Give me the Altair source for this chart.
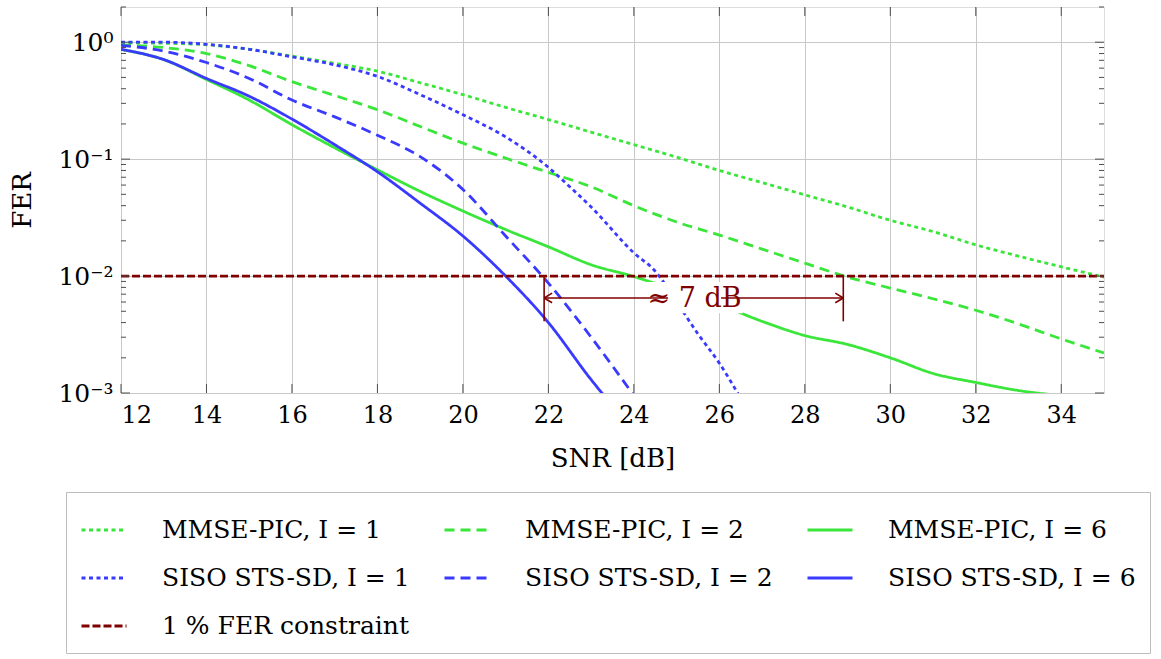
import altair as alt
import pandas as pd

# ---------------- data ----------------
mmse1_snr = [12, 13, 14, 15, 16, 17, 18, 19, 20, 21, 22, 23, 24, 25, 26, 27, 28, 29, 30, 31, 32, 33, 34, 35]
mmse1_fer = [0.99, 0.98, 0.95, 0.87, 0.76, 0.66, 0.565, 0.45, 0.356, 0.277, 0.218, 0.17, 0.133, 0.104,
             0.08, 0.063, 0.0495, 0.039, 0.030, 0.024, 0.0185, 0.0148, 0.012, 0.0098]

mmse2_snr = [12, 13, 14, 15, 16, 17, 18, 19, 20, 21, 22, 23, 24, 25, 26, 27, 28, 29, 30, 31, 32, 33, 34, 35]
mmse2_fer = [0.95, 0.90, 0.80, 0.63, 0.46, 0.35, 0.265, 0.19, 0.137, 0.102, 0.077, 0.058, 0.04, 0.029,
             0.0224, 0.017, 0.0129, 0.0098, 0.0079, 0.0064, 0.0051, 0.0039, 0.0029, 0.0022]

mmse6_snr = [12, 13, 14, 15, 16, 17, 18, 19, 20, 21, 22, 23, 24, 25, 26, 27, 28, 29, 30, 31, 32, 33, 34]
mmse6_fer = [0.865, 0.71, 0.48, 0.32, 0.197, 0.125, 0.081, 0.053, 0.036, 0.025, 0.0178, 0.0125, 0.0099,
             0.0075, 0.0057, 0.0041, 0.0031, 0.0026, 0.0020, 0.00147, 0.00123, 0.00105, 0.00095]

siso1_snr = [12, 13, 14, 15, 16, 17, 18, 19, 20, 21, 22, 22.5, 23, 24, 24.5, 25, 25.5, 26, 26.5]
siso1_fer = [1.0, 1.0, 0.96, 0.87, 0.75, 0.64, 0.51, 0.356, 0.24, 0.155, 0.085, 0.058, 0.039, 0.0158,
             0.011, 0.006, 0.0032, 0.0018, 0.0009]

siso2_snr = [12, 13, 14, 15, 16, 17, 18, 19, 20, 21, 22, 23, 24]
siso2_fer = [0.94, 0.84, 0.67, 0.49, 0.32, 0.23, 0.16, 0.105, 0.055, 0.022, 0.0087, 0.003, 0.00095]

siso6_snr = [12, 13, 14, 15, 16, 17, 18, 19, 20, 21, 22, 23, 23.3]
siso6_fer = [0.87, 0.71, 0.49, 0.345, 0.22, 0.133, 0.078, 0.042, 0.022, 0.01, 0.004, 0.0013, 0.00095]

constraint_snr = [12, 35]
constraint_fer = [0.01, 0.01]

series_names = ["MMSE-PIC, I = 1", "MMSE-PIC, I = 2", "MMSE-PIC, I = 6",
                "SISO STS-SD, I = 1", "SISO STS-SD, I = 2", "SISO STS-SD, I = 6",
                "1 % FER constraint"]
series_colors = ["#3ae63a", "#3ae63a", "#3ae63a", "#3a3aff", "#3a3aff", "#3a3aff", "#800000"]
series_dash = [[4, 3.5], [10, 6], [1, 0], [4, 3.5], [10, 6], [1, 0], [8, 3]]
series_width = [2.8, 2.8, 2.8, 2.8, 2.8, 2.8, 4.8]

# annotation (≈ 7 dB gap)
gap_left, gap_right = 21.9, 28.9
gap_bar_bottom = 0.0041
gap_arrow_level = 0.0065
gap_label = "≈ 7 dB"
gap_label_snr = 25.42
label_box = {"snr": [24.3], "snr2": [26.55], "fer": [0.0089], "fer2": [0.0048]}

x_ticks = [12, 14, 16, 18, 20, 22, 24, 26, 28, 30, 32, 34]
y_ticks = [0.001, 0.01, 0.1, 1]
y_minor = [m * 10 ** d for d in (-3, -2, -1, 0) for m in range(2, 10) if m * 10 ** d <= 2]

# ---------------- frames ----------------
rows = []
for name, xs, ys in [
    (series_names[0], mmse1_snr, mmse1_fer),
    (series_names[1], mmse2_snr, mmse2_fer),
    (series_names[2], mmse6_snr, mmse6_fer),
    (series_names[3], siso1_snr, siso1_fer),
    (series_names[4], siso2_snr, siso2_fer),
    (series_names[5], siso6_snr, siso6_fer),
]:
    for a, b in zip(xs, ys):
        rows.append({"series": name, "snr": a, "fer": b})
curves = pd.DataFrame(rows)
constraint = pd.DataFrame({"series": series_names[6], "snr": constraint_snr, "fer": constraint_fer})

W, H = 983, 386
FONT = "DejaVu Serif"
DARKRED = "#800000"

xscale = alt.Scale(domain=[12, 35], nice=False, zero=False)
yscale = alt.Scale(type="log", domain=[0.001, 2], nice=False)

xaxis = alt.Axis(values=x_ticks, title="SNR [dB]", grid=True, ticks=False, domain=False,
                 labelFontSize=24, titleFontSize=26, labelPadding=10, titlePadding=18,
                 labelFont=FONT, titleFont=FONT, titleFontWeight="normal",
                 labelColor="black", titleColor="black", gridColor="#c8c8c8")
yaxis = alt.Axis(values=y_ticks, title="FER", grid=True, ticks=False, domain=False,
                 labelExpr="datum.value >= 0.5 ? '10⁰' : datum.value >= 0.05 ? '10⁻¹' : "
                           "datum.value >= 0.005 ? '10⁻²' : '10⁻³'",
                 labelFontSize=25, titleFontSize=26, labelPadding=8, titlePadding=22,
                 labelFont=FONT, titleFont=FONT, titleFontWeight="normal",
                 labelColor="black", titleColor="black", gridColor="#c8c8c8")


def X(field="snr"):
    return alt.X(field, type="quantitative", scale=xscale, axis=xaxis)


def Y(field="fer"):
    return alt.Y(field, type="quantitative", scale=yscale, axis=yaxis)


legend = alt.Legend(title=None, orient="none", legendX=-55, legendY=485, columns=3,
                    direction="horizontal",
                    columnPadding=28, rowPadding=11, padding=14,
                    labelFont=FONT, labelFontSize=25, labelColor="black", labelLimit=400,
                    symbolType="stroke", symbolSize=2025, labelOffset=34,
                    strokeColor="#bdbdbd", fillColor="white", symbolOpacity=1)

enc = dict(
    x=X(), y=Y(),
    color=alt.Color("series:N", scale=alt.Scale(domain=series_names, range=series_colors), legend=legend),
    strokeDash=alt.StrokeDash("series:N", scale=alt.Scale(domain=series_names, range=series_dash), legend=legend),
    strokeWidth=alt.StrokeWidth("series:N", scale=alt.Scale(domain=series_names, range=series_width), legend=legend),
    detail="series:N",
)

lines = alt.Chart(curves).mark_line(clip=True, interpolate="monotone").encode(**enc)
cline = alt.Chart(constraint).mark_line(clip=True).encode(**enc)

box = alt.Chart(pd.DataFrame(label_box)).mark_rect(fill="white", opacity=1, fillOpacity=1).encode(
    x=X("snr"), x2="snr2", y=Y("fer"), y2="fer2")

bars = alt.Chart(pd.DataFrame({"snr": [gap_left, gap_right],
                               "fer": [0.01, 0.01],
                               "fer2": [gap_bar_bottom, gap_bar_bottom]})).mark_rule(
    color=DARKRED, strokeWidth=1.6).encode(x=X("snr"), y=Y("fer"), y2="fer2")

arrow_df = pd.DataFrame({"snr": [gap_left, gap_label_snr + 0.62],
                         "snr2": [gap_label_snr - 0.62, gap_right],
                         "fer": [gap_arrow_level, gap_arrow_level]})
arrow_line = alt.Chart(arrow_df).mark_rule(color=DARKRED, strokeWidth=1.6).encode(
    x=X("snr"), x2="snr2", y=Y("fer"))

heads = alt.Chart(pd.DataFrame({"snr": [gap_left, gap_right],
                                "fer": [gap_arrow_level, gap_arrow_level],
                                "dir": ["l", "r"]})).mark_point(
    filled=False, color=DARKRED, strokeWidth=1.6, opacity=1, size=256,
).encode(
    x=X("snr"), y=Y("fer"),
    shape=alt.Shape("dir:N", scale=alt.Scale(domain=["l", "r"],
                                             range=["M0,0L1,-0.6M0,0L1,0.6", "M0,0L-1,-0.6M0,0L-1,0.6"]),
                    legend=None),
)

label = alt.Chart(pd.DataFrame({"snr": [gap_label_snr], "fer": [gap_arrow_level], "t": [gap_label]})).mark_text(
    font=FONT, fontSize=27, color=DARKRED, align="center", baseline="middle", dy=1).encode(
    x=X("snr"), y=Y("fer"), text="t:N")

tick_col = "#4d4d4d"
ymin_df = pd.DataFrame({"fer": y_minor})
ymaj_df = pd.DataFrame({"fer": y_ticks})
xmaj_df = pd.DataFrame({"snr": x_ticks})

tL = alt.Chart(ymin_df).mark_rule(color=tick_col, strokeWidth=1).encode(
    y=Y("fer"), x=alt.value(0), x2=alt.value(5))
tR = alt.Chart(ymin_df).mark_rule(color=tick_col, strokeWidth=1).encode(
    y=Y("fer"), x=alt.value(W - 5), x2=alt.value(W))
TL = alt.Chart(ymaj_df).mark_rule(color=tick_col, strokeWidth=1).encode(
    y=Y("fer"), x=alt.value(0), x2=alt.value(9))
TR = alt.Chart(ymaj_df).mark_rule(color=tick_col, strokeWidth=1).encode(
    y=Y("fer"), x=alt.value(W - 9), x2=alt.value(W))
TB = alt.Chart(xmaj_df).mark_rule(color=tick_col, strokeWidth=1).encode(
    x=X("snr"), y=alt.value(H - 9), y2=alt.value(H))
TT = alt.Chart(xmaj_df).mark_rule(color=tick_col, strokeWidth=1).encode(
    x=X("snr"), y=alt.value(0), y2=alt.value(9))

chart = alt.layer(
    lines, box, cline, bars, arrow_line, heads, label, tL, tR, TL, TR, TB, TT
).properties(
    width=W, height=H,
    autosize=alt.AutoSizeParams(type="none"),
    padding={"left": 121, "top": 7, "right": 1161 - 121 - W, "bottom": 659 - 7 - H},
).configure_view(
    stroke="#333333", strokeWidth=1.3
).configure(
    font=FONT, background="white"
)

chart.save("out.html", embed_options={"renderer": "svg", "actions": False})
